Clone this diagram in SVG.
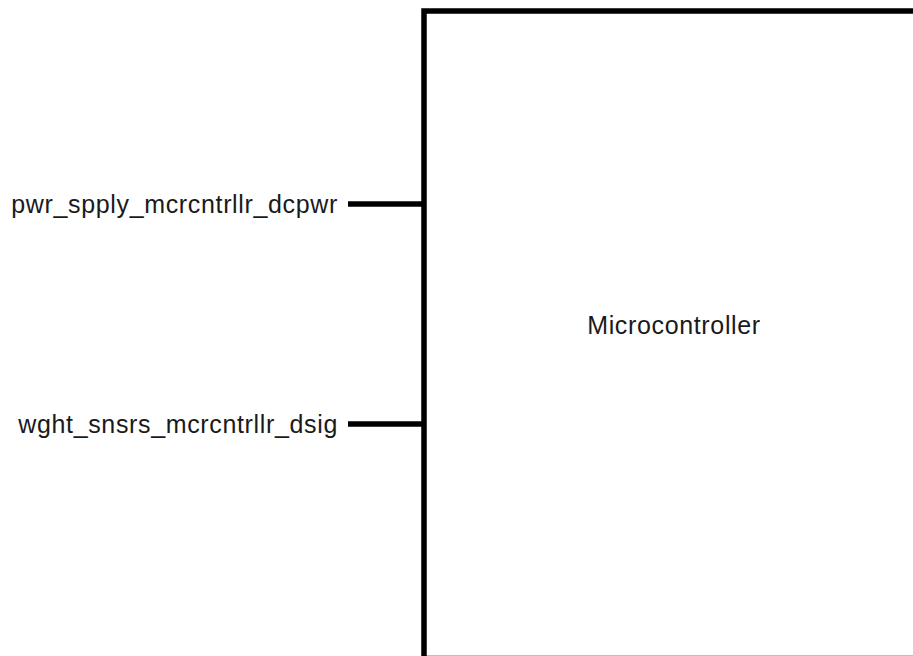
<svg xmlns="http://www.w3.org/2000/svg" width="913" height="656" viewBox="0 0 913 656">
<style>
text{font-family:"Liberation Sans",Arial,sans-serif;font-size:25px;letter-spacing:0.65px;fill:#1a1a1a}
.edge{stroke:#000;stroke-width:5.5;fill:none}
</style>
<rect width="913" height="656" fill="#fff"/>
<g id="microcontroller">
<rect x="424" y="11" width="500" height="647.5" fill="#fff" stroke="#000" stroke-width="5.5"/>
<text x="674" y="333.5" text-anchor="middle">Microcontroller</text>
</g>
<g id="connectors">
<line class="edge" x1="348" y1="204" x2="424" y2="204"/>
<line class="edge" x1="348" y1="424" x2="424" y2="424"/>
</g>
<g id="port-pwr">
<text x="338" y="213" text-anchor="end">pwr_spply_mcrcntrllr_dcpwr</text>
</g>
<g id="port-wght">
<text x="338" y="433" text-anchor="end">wght_snsrs_mcrcntrllr_dsig</text>
</g>
</svg>
